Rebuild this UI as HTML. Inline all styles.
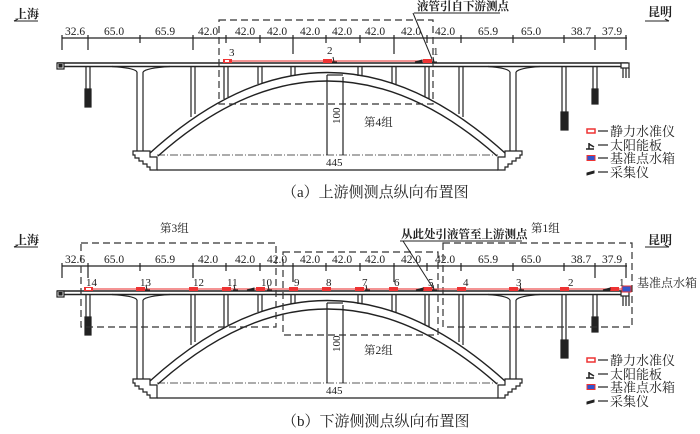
<!DOCTYPE html>
<html><head><meta charset="utf-8"><style>
html,body{margin:0;padding:0;background:#fff;}
svg{display:block;}
text{font-family:"Liberation Serif","Noto Serif CJK SC",serif;fill:#222;}
</style></head><body>
<svg width="700" height="434" viewBox="0 0 700 434" xmlns="http://www.w3.org/2000/svg">
<defs>
<g id="bridge" stroke="#222" fill="none" stroke-width="1.2">
  <line x1="62" y1="38" x2="627" y2="38"/>
  <g>
    <line x1="62" y1="35" x2="62" y2="50"/><line x1="88" y1="35" x2="88" y2="50"/>
    <line x1="140" y1="35" x2="140" y2="43"/><line x1="193" y1="35" x2="193" y2="50"/>
    <line x1="226" y1="35" x2="226" y2="43"/><line x1="260" y1="35" x2="260" y2="43"/>
    <line x1="293" y1="35" x2="293" y2="54"/><line x1="326" y1="35" x2="326" y2="43"/>
    <line x1="360" y1="35" x2="360" y2="43"/><line x1="394" y1="35" x2="394" y2="54"/>
    <line x1="427" y1="35" x2="427" y2="43"/><line x1="461" y1="35" x2="461" y2="43"/>
    <line x1="513" y1="35" x2="513" y2="43"/><line x1="564" y1="35" x2="564" y2="43"/>
    <line x1="595" y1="35" x2="595" y2="50"/><line x1="626" y1="35" x2="626" y2="50"/>
  </g>
  <line x1="57" y1="63" x2="628" y2="63" stroke-width="1.5"/>
  <line x1="57" y1="66.5" x2="628" y2="66.5" stroke-width="1.5"/>
  <path d="M112,66.5 Q135,68 137,72 M143,72 Q146,68 170,66.5"/>
  <path d="M488,66.5 Q508,68 510,72 M516,72 Q519,68 540,66.5"/>
  <rect x="57" y="63" width="7" height="6" fill="#fff"/>
  <rect x="59" y="64.5" width="3" height="2.5" fill="#222"/>
  <line x1="86" y1="67" x2="86" y2="90"/><line x1="90" y1="67" x2="90" y2="90"/>
  <rect x="85" y="89" width="6" height="18" fill="#222"/>
  <line x1="137" y1="72" x2="137" y2="152"/><line x1="143" y1="72" x2="143" y2="152"/>
  <line x1="510" y1="72" x2="510" y2="152"/><line x1="516" y1="72" x2="516" y2="152"/>
  <g>
  <line x1="191" y1="67" x2="191" y2="117"/><line x1="195" y1="67" x2="195" y2="114"/>
  <line x1="224" y1="67" x2="224" y2="99"/><line x1="228" y1="67" x2="228" y2="97"/>
  <line x1="258" y1="67" x2="258" y2="84"/><line x1="262" y1="67" x2="262" y2="83"/>
  <line x1="291" y1="67" x2="291" y2="76"/><line x1="295" y1="67" x2="295" y2="75"/>
  <line x1="358" y1="67" x2="358" y2="76"/><line x1="362" y1="67" x2="362" y2="76"/>
  <line x1="392" y1="67" x2="392" y2="83"/><line x1="396" y1="67" x2="396" y2="84"/>
  <line x1="425" y1="67" x2="425" y2="97"/><line x1="429" y1="67" x2="429" y2="99"/>
  <line x1="459" y1="67" x2="459" y2="114"/><line x1="463" y1="67" x2="463" y2="117"/>
  </g>
  <path d="M150,153 Q327,-8 505,153" stroke-width="1.4"/>
  <path d="M158,156 Q327,6 497,156" stroke-width="1.4"/>
  <path d="M133,151 L150,151 L150,157 L157,157 L157,170 L150,170 L150,167 L147,167 L147,164 L143,164 L143,161 L139,161 L139,158 L135,158 L135,155 L133,155 Z" fill="#fff"/>
  <path d="M522,151 L505,151 L505,157 L498,157 L498,170 L505,170 L505,167 L508,167 L508,164 L512,164 L512,161 L516,161 L516,158 L520,158 L520,155 L522,155 Z" fill="#fff"/>
  <line x1="157" y1="155" x2="498" y2="155" stroke-dasharray="8,2,1,2" stroke-width="0.8"/>
  <line x1="157" y1="170" x2="498" y2="170"/>
  <line x1="327" y1="75" x2="327" y2="155"/><line x1="343" y1="77" x2="343" y2="155"/>
  <line x1="327" y1="75" x2="343" y2="75"/>
  <line x1="562" y1="67" x2="562" y2="113"/><line x1="566" y1="67" x2="566" y2="113"/>
  <rect x="561" y="112" width="7" height="18" fill="#222"/>
  <line x1="593" y1="67" x2="593" y2="90"/><line x1="597" y1="67" x2="597" y2="90"/>
  <rect x="592" y="89" width="6" height="15" fill="#222"/>
  <rect x="621" y="63" width="8" height="5" fill="#fff"/>
  <line x1="623" y1="68" x2="623" y2="78"/><line x1="626" y1="68" x2="626" y2="78"/><line x1="629" y1="68" x2="629" y2="78"/>
</g>
<g id="legend">
  <rect x="587" y="-2" width="8" height="4" fill="#fff" stroke="#e33" stroke-width="1.5"/>
  <line x1="598" y1="0" x2="608" y2="0" stroke="#222" stroke-width="1.2"/>
  <text x="610" y="5" font-size="13">静力水准仪</text>
  <path d="M589,12 L589,18 M586,18 L594,18 M589,13 L594,16" stroke="#222" stroke-width="1.5" fill="none"/>
  <line x1="598" y1="14" x2="608" y2="14" stroke="#222" stroke-width="1.2"/>
  <text x="610" y="19" font-size="13">太阳能板</text>
  <rect x="587" y="24.5" width="8" height="5" fill="#3355cc" stroke="#e33"/>
  <line x1="598" y1="27" x2="608" y2="27" stroke="#222" stroke-width="1.2"/>
  <text x="610" y="32" font-size="13">基准点水箱</text>
  <path d="M587,42 L594,40 L594,42 L587,44 Z" fill="#222" stroke="#222"/>
  <line x1="598" y1="41" x2="608" y2="41" stroke="#222" stroke-width="1.2"/>
  <text x="610" y="46" font-size="13">采集仪</text>
</g>
</defs>

<use href="#bridge"/>
<g font-size="11.5">
<text x="65" y="35">32.6</text><text x="104" y="35">65.0</text><text x="155" y="35">65.9</text>
<text x="198" y="35">42.0</text><text x="235" y="35">42.0</text><text x="267" y="35">42.0</text>
<text x="300" y="35">42.0</text><text x="332" y="35">42.0</text><text x="365" y="35">42.0</text>
<text x="401" y="35">42.0</text><text x="435" y="35">42.0</text><text x="478" y="35">65.9</text>
<text x="521" y="35">65.0</text><text x="571" y="35">38.7</text><text x="602" y="35">37.9</text>
</g>
<rect x="219" y="20" width="214" height="84" fill="none" stroke="#333" stroke-width="1.2" stroke-dasharray="7,4"/>
<line x1="223" y1="61" x2="430" y2="61" stroke="#e55" stroke-width="1.2"/>
<g fill="#e33"><rect x="223" y="59" width="9" height="4"/><rect x="323" y="59" width="9" height="4"/><rect x="423" y="59" width="9" height="4"/></g>
<rect x="225" y="60" width="4" height="2" fill="#fff"/>
<path d="M415,62 L422,60 L422,62 Z" fill="#222" stroke="#222"/>
<path d="M333,57 L334,62 M332,62 L337,62" stroke="#222" fill="none"/>
<path d="M433,57 L434,62 M432,62 L437,62" stroke="#222" fill="none"/>
<text x="229" y="56" font-size="11">3</text><text x="327" y="54" font-size="11">2</text><text x="433" y="55" font-size="11">1</text>
<text x="417" y="10" font-size="11.5" font-weight="bold">液管引自下游测点</text>
<line x1="414" y1="13" x2="500" y2="13" stroke="#222"/>
<line x1="413" y1="13" x2="432" y2="59" stroke="#222"/>
<text x="364" y="126" font-size="11.5">第4组</text>
<text x="340" y="124" font-size="11" transform="rotate(-90 340 124)">100</text>
<text x="326" y="166" font-size="11">445</text>
<text x="15" y="18" font-size="12" font-weight="bold">上海</text>
<path d="M14,21 L38,21 M14,21 L18,19" stroke="#222" fill="none"/>
<text x="648" y="16" font-size="12" font-weight="bold">昆明</text>
<path d="M645,21 L669,21 M669,21 L665,19" stroke="#222" fill="none"/>
<use href="#legend" transform="translate(0,131)"/>
<text x="282" y="197" font-size="15">（a）上游侧测点纵向布置图</text>

<use href="#bridge" transform="translate(0,228)"/>
<g font-size="11.5">
<text x="65" y="263">32.6</text><text x="104" y="263">65.0</text><text x="155" y="263">65.9</text>
<text x="198" y="263">42.0</text><text x="235" y="263">42.0</text><text x="267" y="263">42.0</text>
<text x="300" y="263">42.0</text><text x="332" y="263">42.0</text><text x="365" y="263">42.0</text>
<text x="401" y="263">42.0</text><text x="435" y="263">42.0</text><text x="478" y="263">65.9</text>
<text x="521" y="263">65.0</text><text x="571" y="263">38.7</text><text x="602" y="263">37.9</text>
</g>
<rect x="81" y="243" width="195" height="84" fill="none" stroke="#333" stroke-width="1.2" stroke-dasharray="7,4"/>
<rect x="283" y="252" width="155" height="83" fill="none" stroke="#333" stroke-width="1.2" stroke-dasharray="7,4"/>
<rect x="443" y="243" width="189" height="84" fill="none" stroke="#333" stroke-width="1.2" stroke-dasharray="7,4"/>
<line x1="84" y1="289" x2="622" y2="289" stroke="#e55" stroke-width="1.2"/>
<g fill="#e33">
<rect x="84" y="287" width="9" height="4"/><rect x="136" y="287" width="9" height="4"/><rect x="189" y="287" width="9" height="4"/>
<rect x="222" y="287" width="9" height="4"/><rect x="256" y="287" width="9" height="4"/><rect x="289" y="287" width="9" height="4"/>
<rect x="322" y="287" width="9" height="4"/><rect x="355" y="287" width="9" height="4"/><rect x="389" y="287" width="9" height="4"/>
<rect x="423" y="287" width="9" height="4"/><rect x="457" y="287" width="9" height="4"/><rect x="509" y="287" width="9" height="4"/>
<rect x="560" y="287" width="9" height="4"/><rect x="610" y="287" width="9" height="4"/>
</g>
<rect x="86" y="288" width="5" height="2" fill="#fff"/>
<rect x="622" y="286" width="9" height="6" fill="#3355cc" stroke="#e33"/>
<g fill="#222" stroke="#222">
<path d="M247,290 L254,288 L254,290 Z"/><path d="M416,290 L423,288 L423,290 Z"/><path d="M603,290 L610,288 L610,290 Z"/>
</g>
<g stroke="#222" fill="none">
<path d="M146,285 L147,290 M145,290 L150,290"/><path d="M234,285 L235,290 M233,290 L238,290"/>
<path d="M268,285 L269,290 M267,290 L272,290"/><path d="M366,285 L367,290 M365,290 L370,290"/>
<path d="M433,285 L434,290 M432,290 L437,290"/><path d="M520,285 L521,290 M519,290 L524,290"/>
</g>
<g font-size="11">
<text x="86" y="286">14</text><text x="140" y="286">13</text><text x="193" y="286">12</text><text x="227" y="286">11</text>
<text x="261" y="286">10</text><text x="294" y="286">9</text><text x="326" y="286">8</text><text x="362" y="286">7</text>
<text x="394" y="286">6</text><text x="428" y="286">5</text><text x="463" y="286">4</text><text x="516" y="286">3</text>
<text x="568" y="286">2</text><text x="619" y="286">1</text>
</g>
<text x="637" y="287" font-size="12">基准点水箱</text>
<text x="401" y="238" font-size="11.5" font-weight="bold">从此处引液管至上游测点</text>
<line x1="400" y1="241" x2="522" y2="241" stroke="#222"/>
<line x1="403" y1="241" x2="433" y2="288" stroke="#222"/>
<text x="160" y="232" font-size="11.5">第3组</text>
<text x="531" y="232" font-size="11.5">第1组</text>
<text x="364" y="354" font-size="11.5">第2组</text>
<text x="340" y="352" font-size="11" transform="rotate(-90 340 352)">100</text>
<text x="326" y="394" font-size="11">445</text>
<text x="15" y="244" font-size="12" font-weight="bold">上海</text>
<path d="M14,247 L38,247 M14,247 L18,245" stroke="#222" fill="none"/>
<text x="648" y="244" font-size="12" font-weight="bold">昆明</text>
<path d="M645,247 L669,247 M669,247 L665,245" stroke="#222" fill="none"/>
<use href="#legend" transform="translate(0,360)"/>
<text x="282" y="426" font-size="15">（b）下游侧测点纵向布置图</text>
</svg>
</body></html>
